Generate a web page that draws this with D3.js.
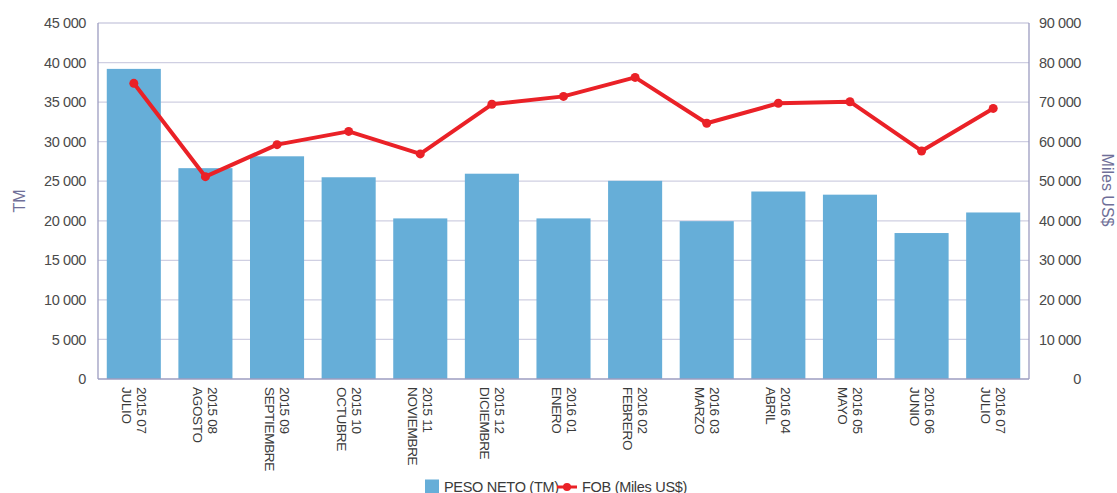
<!DOCTYPE html>
<html>
<head>
<meta charset="utf-8">
<script src="https://cdn.jsdelivr.net/npm/d3@7"></script>
<style>
  body { margin: 0; background: #fff; }
  text { font-family: "Liberation Sans", Arial, sans-serif; }
</style>
</head>
<body>
<svg id="chart"></svg>
<script>
// data
const periods = ["2015 07", "2015 08", "2015 09", "2015 10", "2015 11", "2015 12",
                 "2016 01", "2016 02", "2016 03", "2016 04", "2016 05", "2016 06", "2016 07"];
const months = ["JULIO", "AGOSTO", "SEPTIEMBRE", "OCTUBRE", "NOVIEMBRE", "DICIEMBRE",
                "ENERO", "FEBRERO", "MARZO", "ABRIL", "MAYO", "JUNIO", "JULIO"];
const pesoNeto = [39200, 26650, 28150, 25500, 20300, 25950, 20300, 25050, 19950, 23700, 23300, 18450, 21050];
const fob = [74750, 51150, 59250, 62600, 56900, 69450, 71450, 76250, 64650, 69700, 70100, 57650, 68400];
const leftTicks = [0, 5000, 10000, 15000, 20000, 25000, 30000, 35000, 40000, 45000];
const rightTicks = [0, 10000, 20000, 30000, 40000, 50000, 60000, 70000, 80000, 90000];

const config = {
    width: 1117,
    height: 493,
    margin: { top: 23, right: 88, bottom: 114, left: 98 }
};

const fmt = v => d3.format(",")(v).replace(/,/g, " ");

const svg = d3.select("#chart")
    .attr("width", config.width)
    .attr("height", config.height);

const w = config.width - config.margin.left - config.margin.right;
const h = config.height - config.margin.top - config.margin.bottom;

const g = svg.append("g")
    .attr("transform", `translate(${config.margin.left},${config.margin.top})`);

const xScale = d3.scaleBand()
    .domain(d3.range(periods.length))
    .range([0, w])
    .paddingInner(0.245)
    .paddingOuter(0.1225);

const yLeft = d3.scaleLinear().domain([0, 45000]).range([h, 0]);
const yRight = d3.scaleLinear().domain([0, 90000]).range([h, 0]);

// gridlines
g.append("g")
    .selectAll("line")
    .data(leftTicks.filter(d => d > 0))
    .join("line")
    .attr("x1", 0)
    .attr("x2", w)
    .attr("y1", d => yLeft(d))
    .attr("y2", d => yLeft(d))
    .attr("stroke", "#cfcfe2")
    .attr("stroke-width", 1.3);

// bars
g.append("g")
    .selectAll("rect")
    .data(pesoNeto)
    .join("rect")
    .attr("x", (d, i) => xScale(i))
    .attr("y", d => yLeft(d))
    .attr("width", xScale.bandwidth())
    .attr("height", d => h - yLeft(d))
    .attr("fill", "#66aed8");

// frame lines
g.append("line").attr("x1", 0).attr("x2", 0).attr("y1", 0).attr("y2", h)
    .attr("stroke", "#9c9cc0").attr("stroke-width", 1.3);
g.append("line").attr("x1", w).attr("x2", w).attr("y1", 0).attr("y2", h)
    .attr("stroke", "#9c9cc0").attr("stroke-width", 1.3);
g.append("line").attr("x1", 0).attr("x2", w).attr("y1", h).attr("y2", h)
    .attr("stroke", "#9c9cc0").attr("stroke-width", 1.3);

// left axis labels
const leftAxis = d3.axisLeft(yLeft).tickValues(leftTicks).tickSize(0).tickPadding(12).tickFormat(fmt);
g.append("g").call(leftAxis)
    .call(s => s.select(".domain").remove())
    .selectAll("text")
    .style("font-size", "14.5px")
    .style("letter-spacing", "-0.4px")
    .attr("fill", "#4a4a4a");

// right axis labels (right aligned)
const rightAxis = d3.axisRight(yRight).tickValues(rightTicks).tickSize(0).tickPadding(52).tickFormat(fmt);
g.append("g").attr("transform", `translate(${w},0)`).call(rightAxis)
    .call(s => s.select(".domain").remove())
    .selectAll("text")
    .attr("text-anchor", "end")
    .style("font-size", "14.5px")
    .style("letter-spacing", "-0.4px")
    .attr("fill", "#4a4a4a");

// x labels, rotated
const xLabels = g.append("g")
    .selectAll("g")
    .data(periods)
    .join("g")
    .attr("transform", (d, i) => `translate(${xScale(i) + xScale.bandwidth() / 2},${h + 8}) rotate(90)`);

xLabels.append("text")
    .attr("x", 0)
    .attr("y", -3)
    .style("font-size", "13.5px")
    .style("letter-spacing", "-0.3px")
    .attr("fill", "#3a3a3a")
    .text(d => d);

xLabels.append("text")
    .attr("x", 0)
    .attr("y", 12)
    .style("font-size", "13.5px")
    .style("letter-spacing", "-0.3px")
    .attr("fill", "#3a3a3a")
    .text((d, i) => months[i]);

// line
const line = d3.line()
    .x((d, i) => xScale(i) + xScale.bandwidth() / 2)
    .y(d => yRight(d));

g.append("path")
    .datum(fob)
    .attr("d", line)
    .attr("fill", "none")
    .attr("stroke", "#ea2127")
    .attr("stroke-width", 4)
    .attr("stroke-linejoin", "round");

g.append("g")
    .selectAll("circle")
    .data(fob)
    .join("circle")
    .attr("cx", (d, i) => xScale(i) + xScale.bandwidth() / 2)
    .attr("cy", d => yRight(d))
    .attr("r", 4.5)
    .attr("fill", "#ea2127");

// axis titles
svg.append("text")
    .attr("transform", "translate(25,201) rotate(-90)")
    .attr("text-anchor", "middle")
    .style("font-size", "16px")
    .attr("fill", "#6f6f98")
    .text("TM");

svg.append("text")
    .attr("transform", "translate(1102,190) rotate(90)")
    .attr("text-anchor", "middle")
    .style("font-size", "16px")
    .attr("fill", "#6f6f98")
    .text("Miles US$");

// legend
const legend = svg.append("g").attr("transform", "translate(425,486)");
legend.append("rect")
    .attr("x", 0).attr("y", -6.5)
    .attr("width", 14).attr("height", 14)
    .attr("fill", "#66aed8");
legend.append("text")
    .attr("x", 19).attr("y", 5.5)
    .style("font-size", "14.5px")
    .style("letter-spacing", "-0.3px")
    .attr("fill", "#3a3a3a")
    .text("PESO NETO (TM)");
legend.append("line")
    .attr("x1", 132).attr("x2", 152).attr("y1", 1).attr("y2", 1)
    .attr("stroke", "#ea2127").attr("stroke-width", 3);
legend.append("circle")
    .attr("cx", 142).attr("cy", 1).attr("r", 4)
    .attr("fill", "#ea2127");
legend.append("text")
    .attr("x", 157).attr("y", 5.5)
    .style("font-size", "14.5px")
    .style("letter-spacing", "-0.3px")
    .attr("fill", "#3a3a3a")
    .text("FOB (Miles US$)");
</script>
</body>
</html>
